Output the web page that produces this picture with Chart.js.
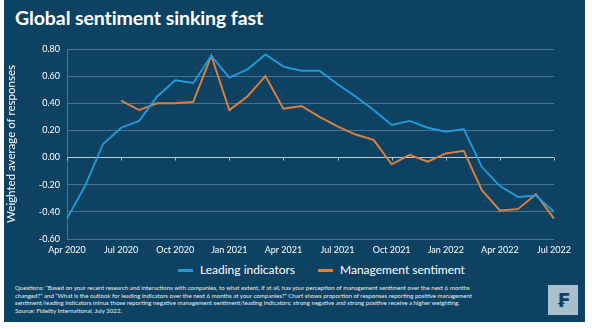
<!DOCTYPE html>
<html>
<head>
<meta charset="utf-8">
<script src="https://cdn.jsdelivr.net/npm/chart.js@4.4.1/dist/chart.umd.min.js"></script>
<style>
  html, body { margin: 0; padding: 0; background: #ffffff; }
  body { width: 592px; height: 329px; position: relative; overflow: hidden; font-family: Lato, "Noto Sans", sans-serif; }
  .panel { position: absolute; left: 4px; top: 0; width: 581px; height: 322px; background: #0d4263; }
  .title { position: absolute; left: 11px; top: 6px; color: #ffffff; font-size: 19.5px; font-weight: bold; letter-spacing: -0.1px; }
  .chart-box { position: absolute; left: 0; top: 36px; width: 581px; height: 222px; }
  .legend { position: absolute; top: 262px; left: 0; width: 581px; height: 16px; color: #ffffff; font-size: 12px; }
  .legend .item { position: absolute; top: 0; line-height: 16px; white-space: nowrap; }
  .legend .swatch { position: absolute; top: 7px; width: 15px; height: 3px; }
  .notes { position: absolute; left: 11px; top: 284px; width: 520px; color: #e8eef3; font-size: 6.1px; line-height: 7.6px; white-space: nowrap; }
  .logo { position: absolute; left: 544px; top: 285px; width: 30px; height: 30px; background: #a9bfcd; color: #0d4263; font: bold 19px "DejaVu Sans", sans-serif; text-align: center; line-height: 30px; }
</style>
</head>
<body>
<div class="panel">
  <div class="title">Global sentiment sinking fast</div>
  <div class="chart-box"><canvas id="sentiment-chart" width="581" height="222"></canvas></div>
  <div class="legend" id="legend"></div>
  <div class="notes">
    <div>Questions: “Based on your recent research and interactions with companies, to what extent, if at all, has your perception of management sentiment over the next 6 months</div>
    <div>changed?” and “What is the outlook for leading indicators over the next 6 months at your companies?” Chart shows proportion of responses reporting positive management</div>
    <div>sentiment/leading indicators minus those reporting negative management sentiment/leading indicators; strong negative and strong positive receive a higher weighting.</div>
    <div>Source: Fidelity International, July 2022.</div>
  </div>
  <div class="logo">₣</div>
</div>

<script>
// ==============================
// DATA
// ==============================
const months = [
  "Apr 2020", "May 2020", "Jun 2020", "Jul 2020", "Aug 2020", "Sep 2020", "Oct 2020", "Nov 2020", "Dec 2020",
  "Jan 2021", "Feb 2021", "Mar 2021", "Apr 2021", "May 2021", "Jun 2021", "Jul 2021", "Aug 2021", "Sep 2021",
  "Oct 2021", "Nov 2021", "Dec 2021", "Jan 2022", "Feb 2022", "Mar 2022", "Apr 2022", "May 2022", "Jun 2022", "Jul 2022"
];

const leadingIndicators = [
  -0.45, -0.21, 0.10, 0.22, 0.27, 0.45, 0.57, 0.55, 0.75,
  0.59, 0.65, 0.76, 0.67, 0.64, 0.64, 0.54, 0.45, 0.35,
  0.24, 0.27, 0.22, 0.19, 0.21, -0.07, -0.21, -0.29, -0.28, -0.40
];

const managementSentiment = [
  null, null, null, 0.42, 0.35, 0.40, 0.40, 0.41, 0.75,
  0.35, 0.45, 0.60, 0.36, 0.38, 0.30, 0.23, 0.17, 0.13,
  -0.05, 0.02, -0.03, 0.03, 0.05, -0.24, -0.39, -0.38, -0.27, -0.45
];

const yTicks = [-0.6, -0.4, -0.2, 0, 0.2, 0.4, 0.6, 0.8];

const BLUE = "#2499d8";
const ORANGE = "#e07f3a";
const TEXT = "#ffffff";
const GRID = "rgba(140, 180, 205, 0.45)";

// small tick marks along the zero line, one per quarter label
const zeroTicks = {
  id: "zeroTicks",
  afterDatasetsDraw(chart) {
    const { ctx, scales: { x, y } } = chart;
    const y0 = y.getPixelForValue(0);
    ctx.save();
    ctx.strokeStyle = "rgba(200, 220, 232, 0.8)";
    ctx.lineWidth = 1;
    months.forEach((m, i) => {
      if (i % 3 !== 0) return;
      const px = Math.round(x.getPixelForValue(i)) + 0.5;
      ctx.beginPath();
      ctx.moveTo(px, y0);
      ctx.lineTo(px, y0 + 3);
      ctx.stroke();
    });
    ctx.restore();
  }
};

// legend rows built from the dataset list
const legendSpots = [{ swatch: 174, text: 196 }, { swatch: 314, text: 336 }];

const ctx = document.getElementById("sentiment-chart");

const chart = new Chart(ctx, {
  type: "line",
  data: {
    labels: months,
    datasets: [
      {
        label: "Leading indicators",
        data: leadingIndicators,
        borderColor: BLUE,
        backgroundColor: BLUE,
        borderWidth: 1.9,
        pointRadius: 0,
        tension: 0
      },
      {
        label: "Management sentiment",
        data: managementSentiment,
        borderColor: ORANGE,
        backgroundColor: ORANGE,
        borderWidth: 1.9,
        pointRadius: 0,
        tension: 0
      }
    ]
  },
  options: {
    responsive: false,
    animation: false,
    layout: { padding: { top: 13, right: 31, left: 0, bottom: 1 } },
    plugins: {
      tooltip: { enabled: false },
      legend: { display: false }
    },
    scales: {
      x: {
        type: "category",
        offset: false,
        grid: { display: false, drawTicks: false },
        border: { display: false },
        ticks: {
          color: TEXT,
          font: { family: "Lato", size: 9 },
          autoSkip: false,
          maxRotation: 0,
          padding: 6,
          callback: (v, i) => (i % 3 === 0 ? months[i] : "")
        },
        afterFit: (scale) => { scale.height = 18; }
      },
      y: {
        min: -0.6,
        max: 0.8,
        afterBuildTicks: (scale) => { scale.ticks = yTicks.map(v => ({ value: v })); },
        grid: {
          color: (c) => (c.tick && c.tick.value === 0 ? "rgba(215, 230, 240, 0.85)" : GRID),
          lineWidth: 1,
          drawTicks: false
        },
        border: { display: true, color: GRID, width: 1 },
        ticks: {
          color: TEXT,
          font: { family: "Lato", size: 9 },
          padding: 7,
          callback: (v) => Number(v).toFixed(2)
        },
        title: {
          display: true,
          text: "Weighted average of responses",
          color: TEXT,
          font: { family: "Lato", size: 11.5 },
          padding: { top: 0, bottom: 4 }
        },
        afterFit: (scale) => { scale.width = 63; }
      }
    }
  },
  plugins: [zeroTicks]
});

const legendEl = document.getElementById("legend");
chart.data.datasets.forEach((ds, i) => {
  const spot = legendSpots[i];
  const sw = document.createElement("div");
  sw.className = "swatch";
  sw.style.left = spot.swatch + "px";
  sw.style.background = ds.borderColor;
  const label = document.createElement("div");
  label.className = "item";
  label.style.left = spot.text + "px";
  label.textContent = ds.label;
  legendEl.appendChild(sw);
  legendEl.appendChild(label);
});
</script>
</body>
</html>
